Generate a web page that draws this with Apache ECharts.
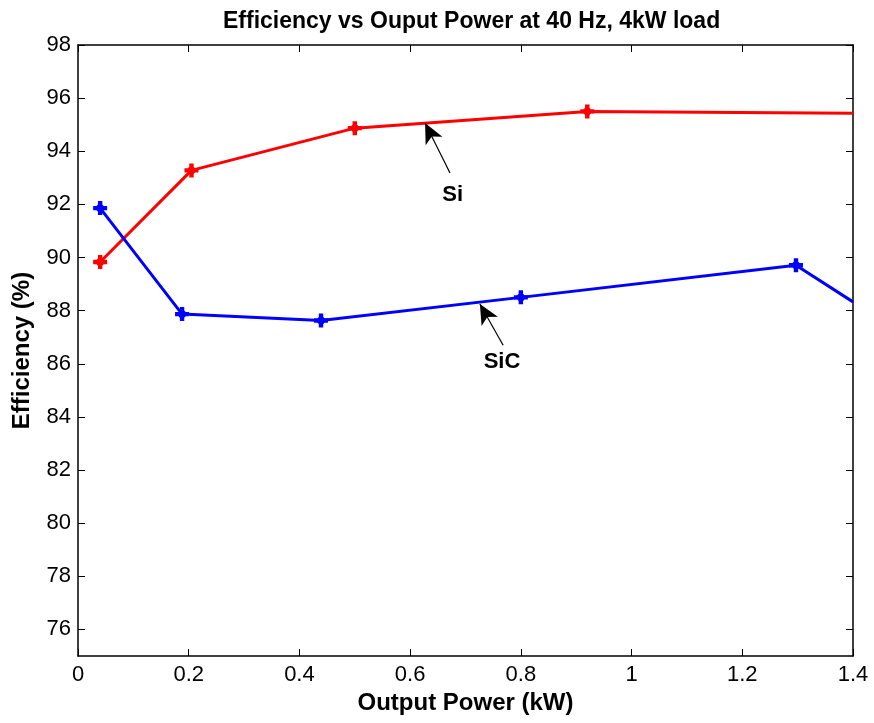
<!DOCTYPE html>
<html>
<head>
<meta charset="utf-8">
<script src="https://cdn.jsdelivr.net/npm/echarts@6/dist/echarts.min.js"></script>
<style>html,body{margin:0;padding:0;background:#fff;}#c{width:874px;height:723px;}</style>
</head>
<body>
<div id="c"></div>
<script>
// ---- data ----
const titleText = 'Efficiency vs Ouput Power at 40 Hz, 4kW load';
const xName = 'Output Power (kW)';
const yName = 'Efficiency (%)';
const siX = [0.04, 0.205, 0.50, 0.92, 1.40];
const siY = [89.83, 93.28, 94.87, 95.50, 95.43];
const sicX = [0.04, 0.188, 0.439, 0.80, 1.297, 1.40];
const sicY = [91.86, 87.87, 87.63, 88.50, 89.71, 88.33];
const xTicks = [0, 0.2, 0.4, 0.6, 0.8, 1, 1.2, 1.4];
const yTicks = [76, 78, 80, 82, 84, 86, 88, 90, 92, 94, 96, 98];
// annotation anchors (data coords): [label, tailX, tailY, tipX, tipY, textX, textY]
const siNote = ['Si', 0.672, 93.18, 0.627, 95.06, 0.677, 92.35];
const sicNote = ['SiC', 0.768, 86.70, 0.726, 88.25, 0.766, 86.06];

const plusSym = 'path://M-2.2,-7H2.2V-3.6L3.6,-2.2H7V2.2H3.6L2.2,3.6V7H-2.2V3.6L-3.6,2.2H-7V-2.2H-3.6L-2.2,-3.6Z';
const FONT = '"Liberation Sans", Arial, Helvetica, sans-serif';

function pts(xs, ys, lastNoSym) {
  return xs.map((x, i) => {
    const d = { value: [x, ys[i]] };
    if (lastNoSym && i === xs.length - 1) d.symbol = 'none';
    return d;
  });
}
function note(n) {
  return {
    markLine: {
      silent: true,
      symbol: ['none', 'arrow'],
      symbolSize: [14, 20],
      lineStyle: { color: '#000', width: 1.2, type: 'solid' },
      label: { show: false },
      data: [[{ coord: [n[1], n[2]] }, { coord: [n[3], n[4]] }]]
    },
    markPoint: {
      silent: true,
      symbol: 'circle', symbolSize: 0,
      label: { show: true, formatter: n[0], color: '#000', fontSize: 22, fontWeight: 'bold', fontFamily: FONT, position: 'inside' },
      data: [{ coord: [n[5], n[6]] }]
    }
  };
}

const chart = echarts.init(document.getElementById('c'), null, { renderer: 'canvas' });
const axisCommon = {
  type: 'value',
  axisLine: { show: true, onZero: false, lineStyle: { color: '#000', width: 1.5 } },
  splitLine: { show: false },
};
chart.setOption({
  animation: false,
  backgroundColor: '#fff',
  title: {
    text: titleText, left: 218, top: 5,
    textStyle: { fontFamily: FONT, fontSize: 23, fontWeight: 'bold', color: '#000' }
  },
  grid: { left: 78, right: 21, top: 45, bottom: 67, containLabel: false },
  xAxis: [
    Object.assign({}, axisCommon, {
      position: 'bottom', min: 0, max: 1.4,
      name: xName, nameLocation: 'middle', nameGap: 35,
      nameTextStyle: { fontFamily: FONT, fontSize: 24, fontWeight: 'bold', color: '#000' },
      axisTick: { show: true, inside: true, length: 7, customValues: xTicks, lineStyle: { color: '#000' } },
      axisLabel: { show: true, customValues: xTicks, margin: 8, fontFamily: FONT, fontSize: 22, color: '#000',
        formatter: v => String(Math.round(v * 10) / 10) }
    }),
    Object.assign({}, axisCommon, {
      position: 'top', min: 0, max: 1.4,
      axisTick: { show: true, inside: true, length: 7, customValues: xTicks, lineStyle: { color: '#000' } },
      axisLabel: { show: false }
    })
  ],
  yAxis: [
    Object.assign({}, axisCommon, {
      position: 'left', min: 75, max: 98,
      name: yName, nameLocation: 'middle', nameGap: 44,
      nameTextStyle: { fontFamily: FONT, fontSize: 24, fontWeight: 'bold', color: '#000' },
      axisTick: { show: true, inside: true, length: 7, customValues: yTicks, lineStyle: { color: '#000' } },
      axisLabel: { show: true, customValues: yTicks, margin: 7, fontFamily: FONT, fontSize: 22, color: '#000' }
    }),
    Object.assign({}, axisCommon, {
      position: 'right', min: 75, max: 98,
      axisTick: { show: true, inside: true, length: 7, customValues: yTicks, lineStyle: { color: '#000' } },
      axisLabel: { show: false }
    })
  ],
  series: [
    Object.assign({
      name: 'Si', type: 'line', data: pts(siX, siY, true),
      symbol: plusSym, symbolSize: 14, showAllSymbol: true,
      lineStyle: { color: '#ff0000', width: 3 },
      itemStyle: { color: '#ff0000' },
      clip: true, z: 3
    }, note(siNote)),
    Object.assign({
      name: 'SiC', type: 'line', data: pts(sicX, sicY, true),
      symbol: plusSym, symbolSize: 14, showAllSymbol: true,
      lineStyle: { color: '#0000ff', width: 3 },
      itemStyle: { color: '#0000ff' },
      clip: true, z: 3
    }, note(sicNote))
  ]
});
</script>
</body>
</html>
